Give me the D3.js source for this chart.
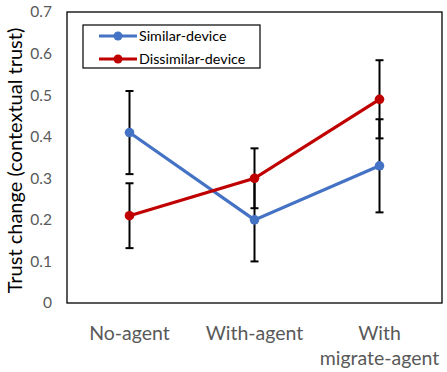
<!DOCTYPE html>
<html>
<head>
<script src="https://cdn.jsdelivr.net/npm/d3@7"></script>
<style type="text/css">
  body{
    background: white;
    margin: 0px;
    font-family: 'Lato', 'Open Sans', sans-serif;
  }
  .tick text{
    fill: #595959;
  }
</style>
</head>
<body>

<div class="chart"></div>

<script>

var categories = ["No-agent", "With-agent", "With|migrate-agent"];
var seriesNames = ["Similar-device", "Dissimilar-device"];
var similarMean = [0.41, 0.20, 0.33];
var similarErr = [0.10, 0.10, 0.112];
var dissimilarMean = [0.21, 0.30, 0.49];
var dissimilarErr = [0.078, 0.072, 0.094];
var yTicks = [0, 0.1, 0.2, 0.3, 0.4, 0.5, 0.6, 0.7];
var colors = ["#4472C4", "#C00000"];

var series = [
  {name: seriesNames[0], mean: similarMean, err: similarErr, color: colors[0]},
  {name: seriesNames[1], mean: dissimilarMean, err: dissimilarErr, color: colors[1]}
];

var margin = {top: 12, right: 5, bottom: 69, left: 67},
    width = 447 - margin.left - margin.right,
    height = 372 - margin.top - margin.bottom;

var svg = d3.select(".chart").append("svg")
    .attr("width", 447)
    .attr("height", 372)
    .append("g")
    .attr("transform", "translate(" + margin.left + "," + margin.top + ")");

var x = d3.scaleBand().domain(categories).range([0, width]);
var y = d3.scaleLinear().domain([0, 0.7]).range([height, 0]);

// frame
svg.append("rect")
    .attr("width", width)
    .attr("height", height)
    .attr("fill", "none")
    .attr("stroke", "black")
    .attr("stroke-width", 1.3);

// y axis labels
var yAxis = svg.append("g")
    .call(d3.axisLeft(y).tickValues(yTicks).tickSize(0).tickPadding(15)
      .tickFormat(function(d) { return d === 0 ? "0" : d3.format(".1f")(d); }));
yAxis.select(".domain").remove();
yAxis.selectAll("text").style("font-size", "15.5px").style("font-family", "Lato");

// x axis labels
var xAxis = svg.append("g")
    .attr("transform", "translate(0," + height + ")")
    .call(d3.axisBottom(x).tickSize(0).tickFormat(""));
xAxis.select(".domain").remove();
xAxis.selectAll(".tick").each(function(d) {
  var lines = d.split("|");
  var t = d3.select(this).append("text")
      .attr("fill", "black")
      .attr("text-anchor", "middle")
      .style("font-size", "19.5px")
      .style("font-family", "Lato");
  lines.forEach(function(l, i) {
    t.append("tspan").attr("x", 0).attr("y", 37 + i * 25).text(l);
  });
});

// y title
svg.append("text")
    .attr("transform", "translate(" + (15 - margin.left) + "," + (height / 2 + 3) + ") rotate(-90)")
    .attr("text-anchor", "middle")
    .attr("dy", "0.35em")
    .style("font-size", "20px")
    .style("font-family", "Lato")
    .text("Trust change (contextual trust)");

var cx = function(i) { return x(categories[i]) + x.bandwidth() / 2; };

// lines first
var line = d3.line()
    .x(function(d, i) { return cx(i); })
    .y(function(d) { return y(d); });

series.forEach(function(s) {
  svg.append("path")
      .datum(s.mean)
      .attr("fill", "none")
      .attr("stroke", s.color)
      .attr("stroke-width", 3.2)
      .attr("d", line);
});

// error bars
series.forEach(function(s) {
  var g = svg.append("g");
  s.mean.forEach(function(m, i) {
    var lo = y(m - s.err[i]), hi = y(m + s.err[i]), c = cx(i);
    g.append("line").attr("x1", c).attr("x2", c).attr("y1", lo).attr("y2", hi)
        .attr("stroke", "black").attr("stroke-width", 2);
    [lo, hi].forEach(function(v) {
      g.append("line").attr("x1", c - 4).attr("x2", c + 4).attr("y1", v).attr("y2", v)
          .attr("stroke", "black").attr("stroke-width", 2);
    });
  });
});

// markers
series.forEach(function(s) {
  svg.selectAll(null)
      .data(s.mean)
      .enter().append("circle")
      .attr("cx", function(d, i) { return cx(i); })
      .attr("cy", function(d) { return y(d); })
      .attr("r", 4.8)
      .attr("fill", s.color);
});

// legend
var legend = svg.append("g").attr("transform", "translate(16,13)");
legend.append("rect")
    .attr("width", 177)
    .attr("height", 43)
    .attr("fill", "white")
    .attr("stroke", "black")
    .attr("stroke-width", 1.2);
series.forEach(function(s, i) {
  var row = legend.append("g").attr("transform", "translate(0," + (11 + i * 23) + ")");
  row.append("line").attr("x1", 16).attr("x2", 54).attr("y1", 0).attr("y2", 0)
      .attr("stroke", s.color).attr("stroke-width", 3.2);
  row.append("circle").attr("cx", 35).attr("cy", 0).attr("r", 4.5).attr("fill", s.color);
  row.append("text").attr("x", 56).attr("dy", "0.35em")
      .style("font-size", "14.3px").style("font-family", "Lato")
      .text(s.name);
});

</script>
</body>
</html>
